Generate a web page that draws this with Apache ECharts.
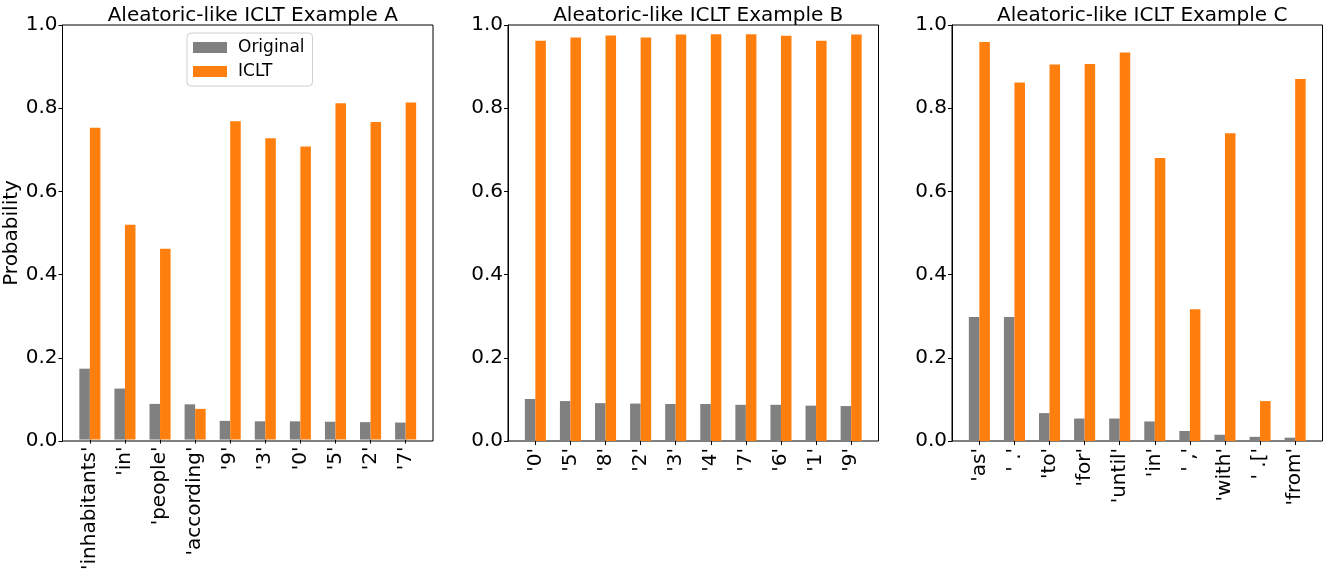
<!DOCTYPE html>
<html><head><meta charset="utf-8">
<script src="https://cdn.jsdelivr.net/npm/echarts@6/dist/echarts.min.js"></script>
<style>html,body{margin:0;padding:0;background:#fff}#c{width:1329px;height:573px}</style>
</head><body><div id="c"></div>
<script>
// ---- data ----
const titles = ['Aleatoric-like ICLT Example A', 'Aleatoric-like ICLT Example B', 'Aleatoric-like ICLT Example C'];
const seriesNames = ['Original', 'ICLT'];
const yTickLabels = ['0.0', '0.2', '0.4', '0.6', '0.8', '1.0'];

const catsA = ["'inhabitants'", "'in'", "'people'", "'according'", "'9'", "'3'", "'0'", "'5'", "'2'", "'7'"];
const origA = [0.171, 0.123, 0.086, 0.085, 0.045, 0.044, 0.044, 0.043, 0.042, 0.041];
const icltA = [0.752, 0.518, 0.460, 0.074, 0.768, 0.727, 0.707, 0.811, 0.766, 0.813];

const catsB = ["'0'", "'5'", "'8'", "'2'", "'3'", "'4'", "'7'", "'6'", "'1'", "'9'"];
const origB = [0.101, 0.096, 0.091, 0.090, 0.089, 0.089, 0.087, 0.087, 0.085, 0.084];
const icltB = [0.962, 0.970, 0.975, 0.970, 0.977, 0.978, 0.978, 0.974, 0.962, 0.977];

const catsC = ["'as'", "' .'", "'to'", "'for'", "'until'", "'in'", "' ,'", "'with'", "' .['", "'from'"];
const origC = [0.298, 0.298, 0.067, 0.054, 0.054, 0.047, 0.024, 0.015, 0.010, 0.008];
const icltC = [0.959, 0.862, 0.905, 0.906, 0.934, 0.680, 0.317, 0.740, 0.096, 0.870];

// ---- layout ----
const FONT = 'DejaVu Sans';
const panels = [
  {cats: catsA, orig: origA, iclt: icltA, left: 62.5},
  {cats: catsB, orig: origB, iclt: icltB, left: 508},
  {cats: catsC, orig: origC, iclt: icltC, left: 952}
];
const TOP = 25, H = 416, W = 370.5;
const barFrac = 0.3;                 // bar width in category units
const span = (10 - 1) + 2 * barFrac; // data span of bars
const xr = span * 1.1;               // matplotlib 5% margins
const mfrac = ((xr - 10) / 2) / xr;  // fraction of axis outside category bands

const grid = [], xAxis = [], yAxis = [], series = [], title = [];
panels.forEach((p, i) => {
  const og = 2 * i, ig = 2 * i + 1;
  const innerLeft = p.left + W * mfrac;
  const innerW = W * (1 - 2 * mfrac);
  const band = innerW / 10;
  grid.push({left: p.left, top: TOP, width: W, height: H, show: true, borderColor: '#000', borderWidth: 1, backgroundColor: 'transparent'});
  grid.push({left: innerLeft, top: TOP, width: innerW, height: H});
  xAxis.push({gridIndex: og, type: 'value', min: 0, max: 1, show: false});
  yAxis.push({
    gridIndex: og, type: 'value', min: 0, max: 1, interval: 0.2,
    axisLine: {show: true, lineStyle: {color: '#000', width: 1}},
    axisTick: {show: true, inside: false, length: 4, lineStyle: {color: '#000'}},
    axisLabel: {fontSize: 20, color: '#000', fontFamily: FONT, margin: 5,
      formatter: v => yTickLabels[Math.round(v / 0.2)]},
    splitLine: {show: false},
    name: i === 0 ? 'Probability' : '', nameLocation: 'middle', nameGap: 37,
    nameTextStyle: {fontSize: 20, color: '#000', fontFamily: FONT}
  });
  xAxis.push({
    gridIndex: ig, type: 'category', data: p.cats,
    axisLine: {show: false},
    axisTick: {show: true, alignWithLabel: true, length: 4, lineStyle: {color: '#000'}},
    axisLabel: {rotate: 90, interval: 0, fontSize: 20, color: '#000', fontFamily: FONT, margin: 7}
  });
  yAxis.push({gridIndex: ig, type: 'value', min: 0, max: 1, show: false});
  const bw = band * barFrac;
  series.push({type: 'bar', name: seriesNames[0], xAxisIndex: ig, yAxisIndex: ig, data: p.orig,
    barWidth: bw, barGap: '0%', itemStyle: {color: '#808080'}});
  series.push({type: 'bar', name: seriesNames[1], xAxisIndex: ig, yAxisIndex: ig, data: p.iclt,
    barWidth: bw, barGap: '0%', itemStyle: {color: '#ff7f0e'}});
  title.push({text: titles[i], left: p.left + W / 2, top: 1, textAlign: 'center',
    textStyle: {fontSize: 20, fontWeight: 'normal', color: '#000', fontFamily: FONT}});
});

const chart = echarts.init(document.getElementById('c'), null, {renderer: 'canvas'});
chart.setOption({
  animation: false,
  backgroundColor: '#fff',
  title, grid, xAxis, yAxis, series,
  legend: {
    data: seriesNames, orient: 'vertical', left: 187, top: 33,
    icon: 'rect', itemWidth: 34, itemHeight: 11, itemGap: 7,
    padding: [6, 8, 6, 6], borderColor: '#d0d0d0', borderWidth: 1, borderRadius: 4,
    backgroundColor: '#fff',
    textStyle: {fontSize: 17, color: '#000', fontFamily: FONT, padding: [0, 0, 0, 6]}
  }
});
</script></body></html>
